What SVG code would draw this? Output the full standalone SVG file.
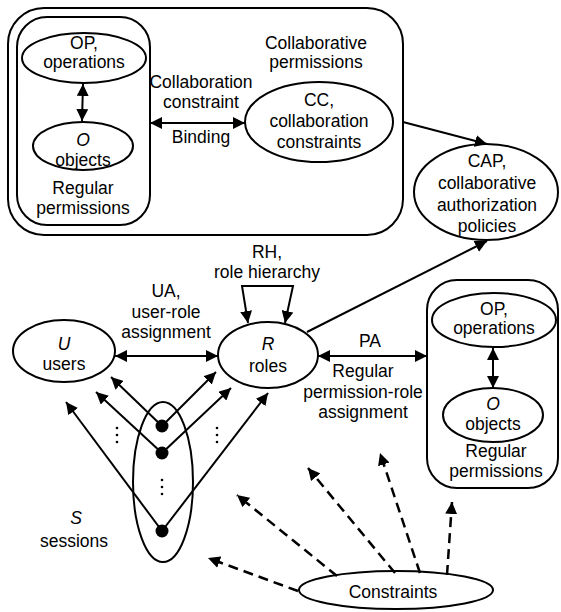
<svg xmlns="http://www.w3.org/2000/svg" width="561" height="612" viewBox="0 0 561 612">
  <defs>
    <marker id="ah" viewBox="0 0 12 12" refX="12" refY="6" markerWidth="12" markerHeight="12" markerUnits="userSpaceOnUse" orient="auto-start-reverse">
      <path d="M0,0 L12,6 L0,12 z" fill="#000"/>
    </marker>
    <style>
      text { font-family: "Liberation Sans", Arial, sans-serif; font-size: 17.5px; fill: #000; text-anchor: middle; }
      .it { font-style: italic; }
      .shape { fill: #fff; stroke: #000; stroke-width: 2; }
      .box { fill: none; stroke: #000; stroke-width: 2; }
      .ln { fill: none; stroke: #000; stroke-width: 2; }
      .arr { marker-end: url(#ah); }
      .bi { marker-start: url(#ah); marker-end: url(#ah); }
      .dash { fill: none; stroke: #000; stroke-width: 2.5; stroke-dasharray: 10 6; marker-end: url(#ah); }
      .dot { fill: #000; }
    </style>
  </defs>

  <!-- collaborative permissions container -->
  <g id="collab-box">
    <rect class="box" x="8" y="8" width="395" height="227" rx="36" ry="36"/>
    <text x="316" y="49">Collaborative</text>
    <text x="316" y="68">permissions</text>
  </g>

  <!-- regular permissions (top) -->
  <g id="regular-perms-top">
    <rect class="box" x="17" y="17" width="133" height="208" rx="30" ry="30"/>
    <text x="83" y="194">Regular</text>
    <text x="83" y="214">permissions</text>
  </g>
  <g id="op-top">
    <ellipse class="shape" cx="84" cy="58" rx="62" ry="25"/>
    <text x="84" y="49">OP,</text>
    <text x="84" y="68">operations</text>
  </g>
  <g id="o-top">
    <ellipse class="shape" cx="83" cy="146" rx="50" ry="24"/>
    <text class="it" x="83" y="146">O</text>
    <text x="83" y="166">objects</text>
  </g>

  <g id="cc">
    <ellipse class="shape" cx="319" cy="122" rx="74" ry="40"/>
    <text x="319" y="106">CC,</text>
    <text x="319" y="127">collaboration</text>
    <text x="319" y="148">constraints</text>
  </g>

  <g id="cap">
    <ellipse class="shape" cx="486" cy="192" rx="72" ry="48"/>
    <text x="487" y="167">CAP,</text>
    <text x="487" y="189">collaborative</text>
    <text x="487" y="211">authorization</text>
    <text x="487" y="232">policies</text>
  </g>

  <g id="users">
    <ellipse class="shape" cx="64" cy="351" rx="51" ry="31"/>
    <text class="it" x="64" y="350">U</text>
    <text x="64" y="370">users</text>
  </g>

  <g id="roles">
    <ellipse class="shape" cx="268" cy="355" rx="50" ry="33"/>
    <text class="it" x="268" y="350">R</text>
    <text x="268" y="372">roles</text>
  </g>

  <!-- regular permissions (right) -->
  <g id="regular-perms-right">
    <rect class="box" x="427" y="280" width="131" height="208" rx="30" ry="30"/>
    <text x="496" y="457">Regular</text>
    <text x="496" y="477">permissions</text>
  </g>
  <g id="op-right">
    <ellipse class="shape" cx="494" cy="320" rx="62" ry="27"/>
    <text x="494" y="315">OP,</text>
    <text x="494" y="334">operations</text>
  </g>
  <g id="o-right">
    <ellipse class="shape" cx="493" cy="415" rx="50" ry="27"/>
    <text class="it" x="493" y="410">O</text>
    <text x="493" y="430">objects</text>
  </g>

  <g id="sessions">
    <ellipse class="box" cx="163" cy="482" rx="30" ry="80"/>
    <text class="it" x="76" y="524">S</text>
    <text x="74" y="547">sessions</text>
  </g>

  <g id="constraints">
    <ellipse class="shape" cx="396" cy="590" rx="97" ry="19"/>
    <text x="393" y="598">Constraints</text>
  </g>

  <!-- connectors -->
  <g id="connectors">
    <path class="ln bi" d="M83,84 L82,121"/>
    <path class="ln bi" d="M150,123 L245,123"/>
    <path class="ln arr" d="M403,122 L487,144"/>
    <path class="ln arr" d="M307,332 L487,241"/>
    <path class="ln bi" d="M248,323 L242,286 L293,286 L285,323"/>
    <path class="ln bi" d="M115,356 L218,356"/>
    <path class="ln bi" d="M318,356 L427,356"/>
    <path class="ln bi" d="M493,348 L493,388"/>

    <!-- user sessions to users and roles -->
    <path class="ln arr" d="M162,426 L111,377"/>
    <path class="ln arr" d="M162,453 L96,392"/>
    <path class="ln arr" d="M162,531 L66,402"/>
    <path class="ln arr" d="M162,426 L216,372"/>
    <path class="ln arr" d="M162,453 L231,388"/>
    <path class="ln arr" d="M162,531 L268,393"/>
    <circle class="dot" cx="162" cy="426" r="6.5"/>
    <circle class="dot" cx="162" cy="453" r="6.5"/>
    <circle class="dot" cx="162" cy="531" r="6.5"/>
    <g class="dot">
      <circle cx="117" cy="428" r="1.3"/><circle cx="117" cy="435" r="1.3"/><circle cx="117" cy="442" r="1.3"/>
      <circle cx="217" cy="428" r="1.3"/><circle cx="217" cy="435" r="1.3"/><circle cx="217" cy="442" r="1.3"/>
      <circle cx="162" cy="480" r="1.3"/><circle cx="162" cy="487" r="1.3"/><circle cx="162" cy="494" r="1.3"/>
    </g>

    <!-- constraints -->
    <path class="dash" d="M298,591 L208,558"/>
    <path class="dash" d="M337,576 L237,495"/>
    <path class="dash" d="M395,573 L308,468"/>
    <path class="dash" d="M420,573 L380,453"/>
    <path class="dash" d="M447,575 L452,502"/>
  </g>

  <!-- connector labels -->
  <g id="labels">
    <text x="201" y="88">Collaboration</text>
    <text x="201" y="108">constraint</text>
    <text x="201" y="143">Binding</text>
    <text x="267" y="258">RH,</text>
    <text x="267" y="278">role hierarchy</text>
    <text x="166" y="297">UA,</text>
    <text x="166" y="318">user-role</text>
    <text x="166" y="338">assignment</text>
    <text x="370" y="347">PA</text>
    <text x="363" y="377">Regular</text>
    <text x="363" y="398">permission-role</text>
    <text x="363" y="418">assignment</text>
  </g>
</svg>
